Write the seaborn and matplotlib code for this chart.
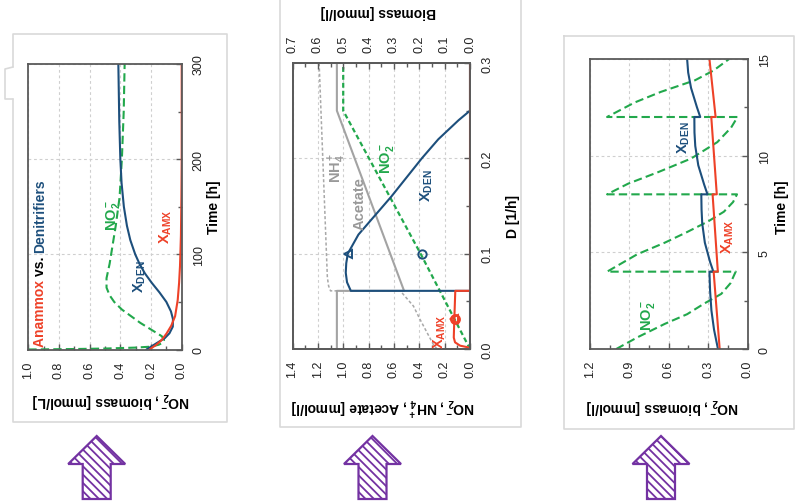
import numpy as np
import pandas as pd
import matplotlib
matplotlib.use("Agg")
import matplotlib.pyplot as plt
import seaborn as sns
from matplotlib.patches import Polygon
from matplotlib.lines import Line2D
from matplotlib.ticker import MultipleLocator, FormatStrFormatter

sns.set_style("white")
plt.rcParams["font.family"] = ["Liberation Sans", "DejaVu Sans"]
plt.rcParams["mathtext.fontset"] = "custom"
plt.rcParams["mathtext.rm"] = "Liberation Sans"
plt.rcParams["mathtext.bf"] = "Liberation Sans:bold"
plt.rcParams["mathtext.it"] = "Liberation Sans:italic"
plt.rcParams["mathtext.sf"] = "Liberation Sans"
plt.rcParams["hatch.linewidth"] = 1.3
plt.rcParams["lines.scale_dashes"] = False

# ---------------- data ----------------
# Panel 1: Anammox vs. Denitrifiers (time course)
p1_t_no2 = [0, 0.5, 1, 2, 3, 5, 7, 10, 14, 18, 23, 28, 35, 42, 50, 57, 65, 75, 90, 110, 130, 160, 200, 250, 300]
p1_no2 = [1.0, 0.7, 0.5, 0.3, 0.2, 0.15, 0.125, 0.115, 0.13, 0.17, 0.22, 0.27, 0.33, 0.39, 0.44, 0.47, 0.49, 0.49, 0.47, 0.45, 0.43, 0.405, 0.39, 0.378, 0.372]
p1_t_den = [0, 3, 7, 12, 17, 24, 32, 40, 50, 60, 70, 80, 90, 100, 115, 130, 150, 175, 200, 240, 300]
p1_den = [0.23, 0.2, 0.16, 0.11, 0.08, 0.058, 0.057, 0.07, 0.1, 0.145, 0.195, 0.24, 0.275, 0.303, 0.335, 0.357, 0.377, 0.392, 0.4, 0.407, 0.413]
p1_t_amx = [0, 5, 10, 17, 25, 35, 52, 70, 88, 120, 160, 200, 300]
p1_amx = [0.21, 0.165, 0.13, 0.098, 0.068, 0.043, 0.026, 0.017, 0.011, 0.005, 0.002, 0.0, 0.0]

# Panel 2: steady state vs dilution rate D
p2_D_no2 = [0, 0.1, 0.25, 0.3]
p2_no2 = [0, 0.39, 1.0, 1.0]
p2_D_ace = [0, 0.061, 0.061, 0.25, 0.3]
p2_ace = [1.05, 1.05, 0.52, 1.05, 1.05]
p2_D_nh4 = [0, 0.005, 0.0175, 0.031, 0.045, 0.061, 0.061, 0.066, 0.075, 0.3]
p2_nh4 = [0.26, 0.29, 0.34, 0.394, 0.446, 0.55, 1.10, 1.115, 1.125, 1.19]
p2_D_den = [0, 0.061, 0.061, 0.07, 0.08, 0.09, 0.1, 0.12, 0.14, 0.16, 0.18, 0.2, 0.22, 0.24, 0.25, 0.3]
p2_den = [0, 0, 0.47, 0.485, 0.49, 0.488, 0.482, 0.44, 0.375, 0.31, 0.25, 0.19, 0.125, 0.045, 0, 0]
p2_D_amx = [0, 0.0017, 0.0035, 0.007, 0.012, 0.03, 0.061, 0.061, 0.3]
p2_amx = [0, 0.007, 0.039, 0.059, 0.064, 0.062, 0.058, 0, 0]
p2_mark_D = [0.1, 0.031]
p2_mark_no2 = [0.38, 0.121]
p2_mark_bio = [0.483, 0.062]

# Panel 3: fed-batch time course
p3_t_no2 = [0, 0.6, 1.3, 1.8, 2.35, 2.85, 3.4, 4.0, 4.0, 4.9, 5.5, 6.05, 6.6, 7.1, 7.6, 8.0,
            8.0, 8.55, 9.15, 9.85, 10.7, 11.45, 12.0, 12.0, 12.75, 13.3, 13.9, 14.4, 15.0]
p3_no2 = [1.0, 0.84, 0.63, 0.46, 0.33, 0.2, 0.13, 0.09, 1.07, 0.84, 0.63, 0.46, 0.3, 0.18, 0.11, 0.08,
          1.07, 0.91, 0.68, 0.43, 0.23, 0.125, 0.076, 1.07, 0.86, 0.66, 0.40, 0.26, 0.14]
p3_t_den = [0, 1, 2, 3, 4.0, 4.0, 4.5, 5.5, 6.5, 7.2, 8.0, 8.0, 8.5, 9.5, 10.5, 11.2, 12.0, 12.0, 12.5, 13.5, 14.3, 15.0]
p3_den = [0.225, 0.255, 0.275, 0.285, 0.29, 0.26, 0.285, 0.325, 0.345, 0.35, 0.352, 0.305, 0.33, 0.375, 0.398, 0.404,
          0.405, 0.36, 0.385, 0.43, 0.452, 0.46]
p3_t_amx = [0, 4.0, 4.0, 8.0, 8.0, 12.0, 12.0, 15.0]
p3_amx = [0.212, 0.258, 0.226, 0.266, 0.234, 0.276, 0.243, 0.29]

# ---------------- style ----------------
RED = "#EE4128"
BLUE = "#1D4F7C"
GREEN = "#22A84C"
GRAY = "#A3A3A3"
GRAY2 = "#A8A8A8"
PURPLE = "#7332A2"
SPINE = "#5A5A5A"
FRAME = "#D9D9D9"
GRID = "#CFCFCF"

W, H = 801, 502
fig = plt.figure(figsize=(W / 100, H / 100), dpi=100)
fig.patch.set_facecolor("white")


def px_ax(x0, y0, x1, y1):
    return fig.add_axes([x0 / W, 1 - y1 / H, (x1 - x0) / W, (y1 - y0) / H])


def ftext(x, y, s, **kw):
    return fig.text(x / W, 1 - y / H, s, **kw)


def fline(xs, ys, **kw):
    fig.add_artist(Line2D([x / W for x in xs], [1 - y / H for y in ys],
                          transform=fig.transFigure, **kw))


def line(ax, xv, yv, color, lw=1.5, ls="-", z=2):
    sns.lineplot(x=xv, y=yv, orient="y", sort=False, estimator=None, ax=ax,
                 color=color, linewidth=lw, linestyle=ls, zorder=z)


def style_ax(ax, xmaj, xmin, ymaj, ymin, xfmt, yfmt):
    ax.set_facecolor("white")
    for sp in ax.spines.values():
        sp.set_color(SPINE)
        sp.set_linewidth(1.3)
    ax.xaxis.set_major_locator(MultipleLocator(xmaj))
    ax.xaxis.set_minor_locator(MultipleLocator(xmin))
    ax.yaxis.set_major_locator(MultipleLocator(ymaj))
    ax.yaxis.set_minor_locator(MultipleLocator(ymin))
    ax.xaxis.set_major_formatter(FormatStrFormatter(xfmt))
    ax.yaxis.set_major_formatter(FormatStrFormatter(yfmt))
    ax.yaxis.tick_right()
    ax.tick_params(axis="both", which="both", direction="in", color=SPINE,
                   labelsize=9, labelcolor="#222222", pad=8)
    ax.tick_params(which="major", length=4, width=1)
    ax.tick_params(which="minor", length=3, width=1)
    ax.tick_params(axis="x", which="both", bottom=True, top=False, labelrotation=90)
    ax.tick_params(axis="y", which="both", left=False, right=True, labelrotation=90,
                   labelleft=False, labelright=True)
    ax.grid(True, which="major", color=GRID, linestyle=(0, (2, 2)), linewidth=0.8)
    ax.set_axisbelow(True)
    ax.set_xlabel("")
    ax.set_ylabel("")


LABEL_KW = dict(fontsize=10, fontweight="bold", ha="center", va="center", color="black")
INL = dict(fontsize=10.5, fontweight="bold", ha="center", va="center", rotation=90)

# ---------------- outer frames ----------------
fline([13, 13, 227, 227, 13, 13], [68, 35, 35, 423, 423, 100], color=FRAME, lw=1.2)
fline([13, 5, 5, 13], [68, 70, 100, 100], color=FRAME, lw=1.2)
fline([280, 280, 521, 521], [-3, 428, 428, -3], color=FRAME, lw=1.2)
fline([564, 564, 794, 794, 564], [37, 430, 430, 37, 37], color=FRAME, lw=1.2)

# ---------------- panel 1 ----------------
ax1 = px_ax(28.3, 65, 181.7, 350.5)
line(ax1, p1_no2, p1_t_no2, GREEN, ls=(0, (6, 3)))
line(ax1, p1_den, p1_t_den, BLUE)
line(ax1, p1_amx, p1_t_amx, RED)
ax1.set_xlim(1.0, 0.0)
ax1.set_ylim(0, 300)
style_ax(ax1, 0.2, 0.1, 100, 50, "%.1f", "%d")

ftext(111, 401, r"$\mathbf{NO_2^-}$, biomass [mmol/L]", rotation=180, **LABEL_KW)
ftext(214, 207, "Time [h]", rotation=90, **LABEL_KW)
ftext(112.5, 215, r"$\mathbf{NO_2^-}$", color=GREEN, **INL)
ftext(140, 277, r"$\mathbf{X_{DEN}}$", color=BLUE, **INL)
ftext(166, 227, r"$\mathbf{X_{AMX}}$", color=RED, **INL)

# title stacked bottom-to-top
renderer = fig.canvas.get_renderer()
ty = 1 - 347 / H
for part, col in [("Anammox ", RED), ("vs. ", "black"), ("Denitrifiers", BLUE)]:
    t = fig.text(40 / W, ty, part, rotation=90, ha="center", va="bottom",
                 fontsize=10, fontweight="bold", color=col)
    bb = t.get_window_extent(renderer=renderer)
    ty = (bb.y1) / (H)

# ---------------- panel 2 ----------------
ax2 = px_ax(292.5, 64, 470, 350)
ax2b = ax2.twiny()
line(ax2, p2_nh4, p2_D_nh4, GRAY2, lw=1.1, ls=(0, (2.2, 1.6)))
line(ax2, p2_ace, p2_D_ace, GRAY, lw=1.5)
line(ax2, p2_no2, p2_D_no2, GREEN, lw=1.6, ls=(0, (3.5, 2.2)))
ax2.plot(p2_mark_no2[:1], p2_mark_D[:1], ls="none", marker="o", ms=6, mfc="none", mec=BLUE, mew=1.4)
ax2.plot(p2_mark_no2[1:], p2_mark_D[1:], ls="none", marker="o", ms=6, mfc="none", mec=RED, mew=1.8)
line(ax2b, p2_den, p2_D_den, BLUE, lw=1.5)
line(ax2b, p2_amx, p2_D_amx, RED, lw=1.5)
ax2b.plot(p2_mark_bio[:1], p2_mark_D[:1], ls="none", marker="<", ms=6, mfc="none", mec=BLUE, mew=1.4)
ax2b.plot(p2_mark_bio[1:], p2_mark_D[1:], ls="none", marker="<", ms=6, mfc="none", mec=RED, mew=1.4)
ax2.set_xlim(1.4, 0.0)
ax2.set_ylim(0, 0.3)
style_ax(ax2, 0.2, 0.1, 0.1, 0.05, "%.1f", "%.1f")
ax2b.set_xlim(0.7, 0.0)
ax2b.xaxis.set_major_locator(MultipleLocator(0.1))
ax2b.xaxis.set_minor_locator(MultipleLocator(0.05))
ax2b.xaxis.set_major_formatter(FormatStrFormatter("%.1f"))
ax2b.tick_params(axis="x", which="both", direction="in", color=SPINE, labelsize=9,
                 labelcolor="#222222", pad=8, labelrotation=90, top=True, bottom=False)
ax2b.tick_params(axis="x", which="major", length=4, width=1)
ax2b.tick_params(axis="x", which="minor", length=3, width=1)
ax2b.set_xlabel("")
ax2b.set_ylabel("")
for sp in ax2b.spines.values():
    sp.set_color(SPINE)
    sp.set_linewidth(1.3)

ftext(383, 406, r"$\mathbf{NO_2^-}$, $\mathbf{NH_4^+}$, Acetate [mmol/l]", rotation=180, **LABEL_KW)
ftext(378, 12, "Biomass [mmol/l]", rotation=180, **LABEL_KW)
ftext(513, 216, "D [1/h]", rotation=90, **LABEL_KW)
ftext(337, 168, r"$\mathbf{NH_4^+}$", color="#999999", **INL)
ftext(360, 204, "Acetate", color="#999999", **INL)
ftext(387, 158, r"$\mathbf{NO_2^-}$", color=GREEN, **INL)
ftext(427, 186, r"$\mathbf{X_{DEN}}$", color=BLUE, **INL)
ftext(440, 332, r"$\mathbf{X_{AMX}}$", color=RED, **INL)

# ---------------- panel 3 ----------------
ax3 = px_ax(590, 60, 747.5, 350)
line(ax3, p3_no2, p3_t_no2, GREEN, ls=(0, (6, 3)))
line(ax3, p3_den, p3_t_den, BLUE)
line(ax3, p3_amx, p3_t_amx, RED)
ax3.set_xlim(1.2, 0.0)
ax3.set_ylim(0, 15)
style_ax(ax3, 0.3, 0.15, 5, 2.5, "%.1f", "%d")

ftext(662, 407, r"$\mathbf{NO_2^-}$, biomass [mmol/l]", rotation=180, **LABEL_KW)
ftext(782, 207, "Time [h]", rotation=90, **LABEL_KW)
ftext(648, 315, r"$\mathbf{NO_2^-}$", color=GREEN, **INL)
ftext(684, 138, r"$\mathbf{X_{DEN}}$", color=BLUE, **INL)
ftext(728, 237, r"$\mathbf{X_{AMX}}$", color=RED, **INL)

for ax in (ax1, ax2, ax3):
    for tk in ax.yaxis.get_major_ticks():
        tk.label2.set_verticalalignment("center")

# ---------------- arrows ----------------
for cx in (96.7, 372.5, 661):
    pts = [(cx, 437), (cx + 28.5, 465), (cx + 14, 465), (cx + 14, 500),
           (cx - 14, 500), (cx - 14, 465), (cx - 28.5, 465)]
    poly = Polygon([(x / W, 1 - y / H) for x, y in pts], closed=True,
                   transform=fig.transFigure, facecolor="white",
                   edgecolor=PURPLE, hatch="\\\\\\\\", linewidth=1.6)
    fig.add_artist(poly)

fig.savefig("out.png", dpi=100, facecolor="white")
